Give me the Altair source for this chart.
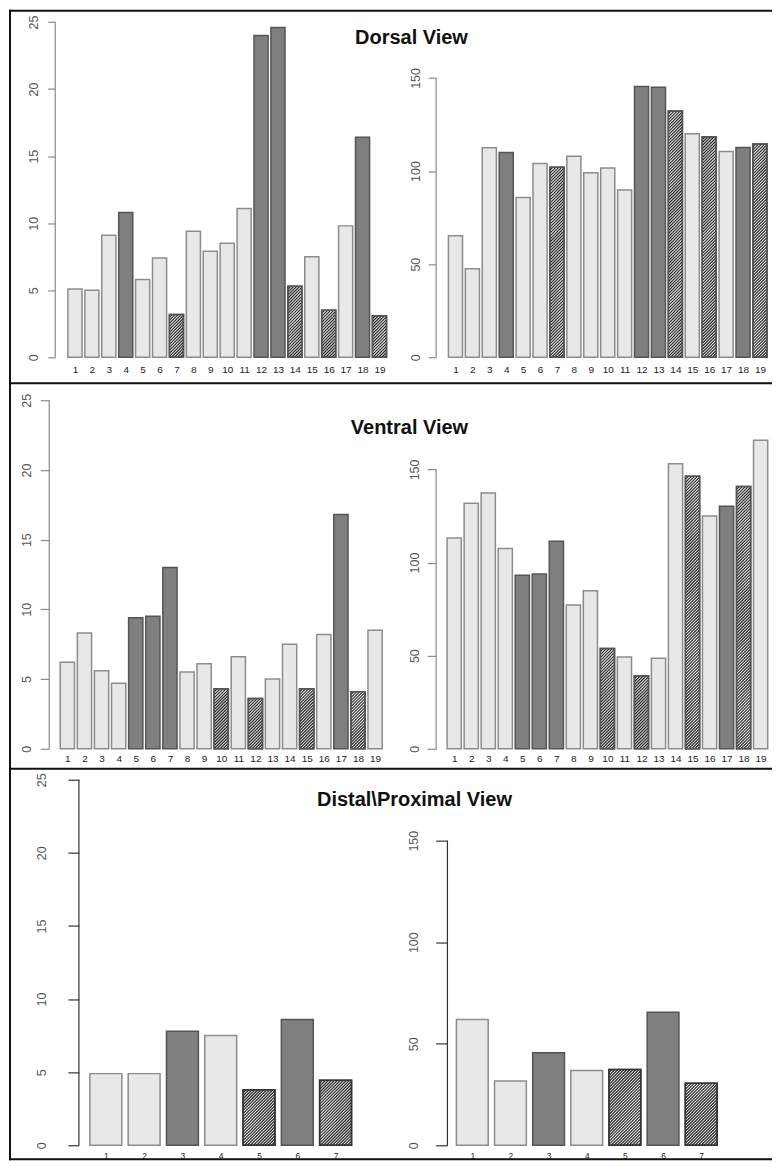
import altair as alt
import numpy as np
import pandas as pd

FONT = "Liberation Sans"

# ---------------- data ----------------
cats19 = [str(i) for i in range(1, 20)]
cats7 = [str(i) for i in range(1, 8)]

dorsal_left = [5.1, 5.0, 9.1, 10.8, 5.8, 7.4, 3.2, 9.4, 7.9, 8.5, 11.1, 24.0, 24.6, 5.3, 7.5, 3.5, 9.8, 16.4, 3.1]
dorsal_right = [65.3, 47.6, 112.5, 110.0, 85.8, 104.1, 102.1, 108.0, 99.1, 101.7, 89.8, 145.4, 145.0, 132.3, 120.0, 118.4, 110.5, 112.6, 114.6]
dorsal_type = ["L", "L", "L", "D", "L", "L", "H", "L", "L", "L", "L", "D", "D", "H", "L", "H", "L", "D", "H"]

ventral_left = [6.2, 8.3, 5.6, 4.7, 9.4, 9.5, 13.0, 5.5, 6.1, 4.3, 6.6, 3.6, 5.0, 7.5, 4.3, 8.2, 16.8, 4.1, 8.5]
ventral_right = [113.2, 131.9, 137.3, 107.5, 93.2, 93.9, 111.4, 77.2, 84.9, 53.8, 49.3, 39.2, 48.6, 153.0, 146.3, 125.0, 130.2, 140.9, 165.7]
ventral_type = ["L", "L", "L", "L", "D", "D", "D", "L", "L", "H", "L", "H", "L", "L", "H", "L", "D", "H", "L"]

distal_left = [4.9, 4.9, 7.8, 7.5, 3.8, 8.6, 4.45]
distal_right = [61.9, 31.6, 45.5, 36.8, 37.3, 65.5, 30.5]
distal_type = ["L", "L", "D", "L", "H", "D", "H"]

titles = ["Dorsal View", "Ventral View", "Distal\\Proximal View"]
left_ticks = [0, 5, 10, 15, 20, 25]
right_ticks = [0, 50, 100, 150]


def hatch_segments(df, kx, ky, s=3.0):
    rows = []
    for _, b in df[df.t == "H"].iterrows():
        w = (b.r - b.l) * kx
        h = b.v * ky
        for c in np.arange(-h, w, s):
            y0 = max(0.0, -c)
            y1 = min(h, w - c)
            if y1 - y0 > 0.3:
                rows.append(dict(x=b.l + (c + y0) / kx, x2=b.l + (c + y1) / kx,
                                 y=y0 / ky, y2=y1 / ky))
    return pd.DataFrame(rows)


def panel(values, types, cats, ticks, x0, width, top, height, axis_x,
          bar_l, bar_r, top_tick_page, tick_size, ypad, ylab_size, xpad,
          xlab_size, axis_color, strokes, title=None, title_xy=None, borders=False):
    n = len(values)
    kx = (bar_r - bar_l) / (1.2 * n - 0.2)
    xmin = 0.2 - (bar_l - x0) / kx
    xmax = xmin + width / kx
    baseline = top + height
    ky = (baseline - top_tick_page) / ticks[-1]
    ymax = height / ky

    df = pd.DataFrame({
        "l": [0.2 + 1.2 * i for i in range(n)],
        "v": values,
        "t": types,
        "c": cats,
    })
    df["r"] = df["l"] + 1.0
    df["z"] = 0.0

    centers = [0.7 + 1.2 * i for i in range(n)]
    expr = "[" + ",".join("'%s'" % c for c in cats) + "][round((datum.value - 0.7) / 1.2)]"

    xs = alt.Scale(domain=[xmin, xmax], nice=False, zero=False)
    ys = alt.Scale(domain=[0, ymax], nice=False, zero=False)
    xaxis = alt.Axis(values=centers, labelExpr=expr, domain=False, ticks=False, tickSize=0,
                     grid=False, title=None, labelPadding=xpad, labelFontSize=xlab_size,
                     labelFont=FONT, labelColor="#222222", labelOverlap=False,
                     labelFlush=False, labelAngle=0, labelBaseline="middle")
    yaxis = alt.Axis(values=ticks, domain=False, grid=False, title=None,
                     tickSize=tick_size, tickColor=axis_color, tickWidth=1.2,
                     labelAngle=270, labelAlign="center", labelBaseline="middle",
                     labelPadding=ypad, labelFontSize=ylab_size, labelFont=FONT,
                     labelColor="#555555", labelOverlap=False, labelFlush=False,
                     offset=-(axis_x - x0))

    fill_sc = alt.Scale(domain=["L", "D", "H"], range=["#e8e8e8", "#7f7f7f", "#ffffff"])
    stroke_sc = alt.Scale(domain=["L", "D", "H"], range=strokes)

    bars = alt.Chart(df).mark_rect(strokeWidth=1.5).encode(
        x=alt.X("l:Q", scale=xs, axis=xaxis), x2="r",
        y=alt.Y("v:Q", scale=ys, axis=yaxis), y2="z",
        fill=alt.Fill("t:N", scale=fill_sc, legend=None),
        stroke=alt.Stroke("t:N", scale=stroke_sc, legend=None),
    )
    hdf = hatch_segments(df, kx, ky)
    hatch = alt.Chart(hdf).mark_rule(color="#2a2a2a", strokeWidth=1.25).encode(
        x=alt.X("x:Q", scale=xs, axis=xaxis), x2="x2",
        y=alt.Y("y:Q", scale=ys, axis=yaxis), y2="y2",
    )
    outline = alt.Chart(df[df.t == "H"]).mark_rect(fillOpacity=0, stroke=strokes[2], strokeWidth=1.5).encode(
        x=alt.X("l:Q", scale=xs, axis=xaxis), x2="r",
        y=alt.Y("v:Q", scale=ys, axis=yaxis), y2="z",
    )
    axline = alt.Chart(pd.DataFrame({"a": [0], "b": [ticks[-1]]})).mark_rule(
        color=axis_color, strokeWidth=1.2).encode(
        x=alt.value(axis_x - x0),
        y=alt.Y("a:Q", scale=ys, axis=yaxis), y2="b",
    )
    layers = [bars, hatch, outline, axline]
    if title is not None:
        layers.append(
            alt.Chart(pd.DataFrame({"t": [title]})).mark_text(
                font=FONT, fontSize=20, fontWeight="bold", align="center",
                baseline="alphabetic", color="#111111").encode(
                text="t:N", x=alt.value(title_xy[0] - x0), y=alt.value(title_xy[1] - top))
        )
    if borders:
        one = pd.DataFrame({"k": [0]})
        for yy in [1, 374, 760, 1151]:
            layers.append(alt.Chart(one).mark_rule(color="#111111", strokeWidth=2).encode(
                x=alt.value(0), x2=alt.value(764), y=alt.value(yy)))
        layers.append(alt.Chart(one).mark_rule(color="#111111", strokeWidth=2).encode(
            x=alt.value(1), y=alt.value(0), y2=alt.value(1152)))
    return alt.layer(*layers).properties(width=width, height=height)


LW, RW = 392, 372
grey = "#8a8a8a"
s_top = ["#8c8c8c", "#555555", "#555555"]
s_bot = ["#555555", "#333333", "#333333"]

dl = panel(dorsal_left, dorsal_type, cats19, left_ticks, 8, LW, 8, 348, 54.3, 67, 386, 20.3,
           7.5, 14.5, 12.5, 12.3, 10, grey, s_top, titles[0], (411, 42), borders=True)
dr = panel(dorsal_right, dorsal_type, cats19, right_ticks, 400, RW, 8, 348, 435.7, 448, 767, 76.3,
           8, 13, 12.5, 12.3, 10, grey, s_top)
vl = panel(ventral_left, ventral_type, cats19, left_ticks, 8, LW, 356, 392, 48.3, 59.3, 381.7, 399,
           9, 13.8, 12.5, 9.7, 10, grey, s_top, titles[1], (409, 433))
vr = panel(ventral_right, ventral_type, cats19, right_ticks, 400, RW, 356, 392, 435.7, 446.7, 767.7, 468.3,
           9, 13, 12.5, 9.7, 10, grey, s_top)
pl = panel(distal_left, distal_type, cats7, left_ticks, 8, LW, 748, 397, 78, 89, 351, 779,
           11, 26.5, 12.5, 10, 8.5, "#333333", s_bot, titles[2], (414, 805))
pr = panel(distal_right, distal_type, cats7, right_ticks, 400, RW, 748, 397, 447, 456, 717, 840,
           11.7, 22, 12.5, 10, 8.5, "#333333", s_bot)

chart = alt.concat(dl, dr, vl, vr, pl, pr, columns=2, spacing=0,
                   bounds="flush", align="each").properties(
    padding=0
).configure_view(stroke=None)

chart.save("out.html", embed_options={"renderer": "svg", "actions": False})
